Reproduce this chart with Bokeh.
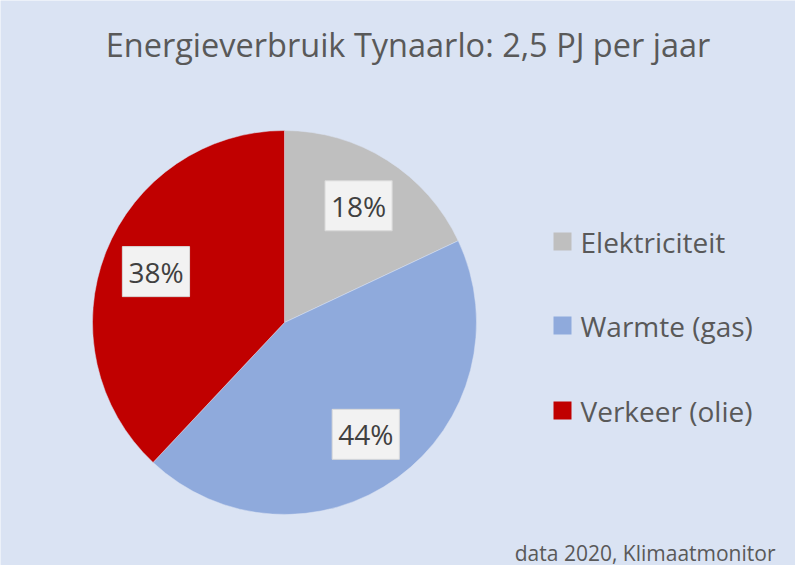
import math
from bokeh.plotting import figure
from bokeh.models import ColumnDataSource, Range1d
from bokeh.core.properties import value
from bokeh.embed import file_html
from bokeh.resources import INLINE

title = "Energieverbruik Tynaarlo: 2,5 PJ per jaar"
footer = "data 2020, Klimaatmonitor"
categories = ["Elektriciteit", "Warmte (gas)", "Verkeer (olie)"]
shares = [18, 44, 38]
colors = ["#bfbfbf", "#8faadc", "#c00000"]

W, H = 795, 565
FONT = "Open Sans"
TXT = "#595959"

p = figure(width=W, height=H, output_backend="svg", toolbar_location=None,
           x_range=Range1d(0, W), y_range=Range1d(0, H), min_border=0)
p.axis.visible = False
p.grid.visible = False
p.outline_line_color = None
p.background_fill_color = "#dae3f3"
p.border_fill_color = "#dae3f3"

cx, cy, R = 284, H - 322, 192
total = sum(shares)
starts, ends, lx, ly, labels = [], [], [], [], []
cum = 0
for s in shares:
    a0 = math.pi / 2 - 2 * math.pi * cum / total
    cum += s
    a1 = math.pi / 2 - 2 * math.pi * cum / total
    starts.append(a0)
    ends.append(a1)
    mid = (a0 + a1) / 2
    lx.append(cx + 0.72 * R * math.cos(mid))
    ly.append(cy + 0.72 * R * math.sin(mid))
    labels.append(f"{s}%")

src = ColumnDataSource(dict(start=starts, end=ends, color=colors,
                            x=[cx] * 3, y=[cy] * 3, lx=lx, ly=ly, label=labels))
p.wedge(x="x", y="y", radius=R, radius_units="screen", start_angle="start", end_angle="end",
        direction="clock", fill_color="color", line_color="#dae3f3", line_width=0.5, source=src)
p.text(x="lx", y="ly", text="label", source=src, text_font=value(FONT), text_font_size="28px",
       text_color="#404040", text_align="center", text_baseline="middle",
       background_fill_color="#f2f2f2", border_line_color="#d9d9d9", padding=6)

# title & footer
p.text(x=[W / 2 + 10], y=[H - 44], text=[title], text_font=value(FONT), text_font_size="32.5px",
       text_color=TXT, text_align="center", text_baseline="middle")
p.text(x=[W - 20], y=[H - 552], text=[footer], text_font=value(FONT), text_font_size="21px",
       text_color=TXT, text_align="right", text_baseline="middle")

# legend
leg_y = [H - 241, H - 325, H - 410]
p.scatter(x=[562] * 3, y=leg_y, marker="square", size=18, fill_color=colors, line_color=None)
p.text(x=[580] * 3, y=leg_y, text=categories, text_font=value(FONT), text_font_size="28px",
       text_color=TXT, text_align="left", text_baseline="middle")

open("out.html", "w").write(file_html(p, INLINE))
